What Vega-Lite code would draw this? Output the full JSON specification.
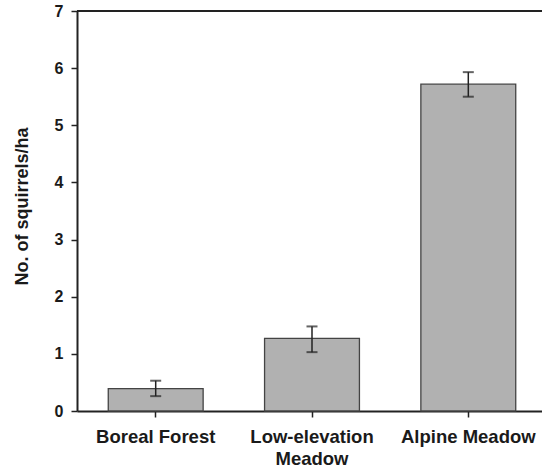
{
  "$schema": "https://vega.github.io/schema/vega-lite/v6.json",
  "autosize": {"type": "none"},
  "width": 465,
  "height": 400,
  "padding": {"left": 77, "top": 11, "right": 0, "bottom": 58},
  "background": "white",
  "config": {
    "view": {"stroke": null},
    "font": "Liberation Sans",
    "axis": {"labelFont": "Liberation Sans", "titleFont": "Liberation Sans", "labelFontWeight": "bold", "titleFontWeight": "bold", "labelColor": "#1a1a1a", "titleColor": "#1a1a1a", "domainColor": "#222", "tickColor": "#222", "grid": false}
  },
  "data": {
    "values": [
      {"habitat": "Boreal Forest", "mean": 0.39, "lo": 0.26, "hi": 0.53},
      {"habitat": "Low-elevation Meadow", "mean": 1.27, "lo": 1.03, "hi": 1.48},
      {"habitat": "Alpine Meadow", "mean": 5.72, "lo": 5.50, "hi": 5.93}
    ]
  },
  "layer": [
    {
      "mark": {"type": "bar", "color": "#b1b1b1", "stroke": "#444", "strokeWidth": 1.3},
      "encoding": {
        "x": {
          "field": "habitat", "type": "nominal", "sort": null,
          "scale": {"range": [0, 470], "paddingInner": 0.393, "paddingOuter": 0.2},
          "axis": {
            "title": null, "labelAngle": 0, "labelFontSize": 18.5, "labelPadding": 10,
            "labelLineHeight": 22, "tickSize": 6, "tickWidth": 1.5, "domainWidth": 2,
            "labelExpr": "datum.label == 'Low-elevation Meadow' ? ['Low-elevation', 'Meadow'] : datum.label"
          }
        },
        "y": {
          "field": "mean", "type": "quantitative", "title": "No. of squirrels/ha",
          "scale": {"domain": [0, 7], "nice": false},
          "axis": {
            "titleFontSize": 18, "titleAngle": -90,
            "titleX": -55, "titleY": 195, "titleBaseline": "middle", "titleAlign": "center",
            "values": [0, 0.5, 1, 1.5, 2, 2.5, 3, 3.5, 4, 4.5, 5, 5.5, 6, 6.5, 7],
            "labelExpr": "datum.value % 1 == 0 ? format(datum.value, 'd') : ''",
            "labelFontSize": 16, "labelPadding": 8, "domainWidth": 2, "tickWidth": 1.5,
            "tickSize": {"condition": {"test": "datum.value % 1 != 0", "value": 4}, "value": 6}
          }
        }
      }
    },
    {
      "mark": {"type": "errorbar", "color": "#222", "ticks": {"size": 11, "thickness": 2}, "rule": {"strokeWidth": 1.5}},
      "encoding": {
        "x": {"field": "habitat", "type": "nominal", "sort": null},
        "y": {"field": "lo", "type": "quantitative", "title": "No. of squirrels/ha"},
        "y2": {"field": "hi"}
      }
    },
    {
      "mark": {"type": "rule", "color": "#222", "strokeWidth": 2},
      "encoding": {"y": {"datum": 7}}
    }
  ]
}
